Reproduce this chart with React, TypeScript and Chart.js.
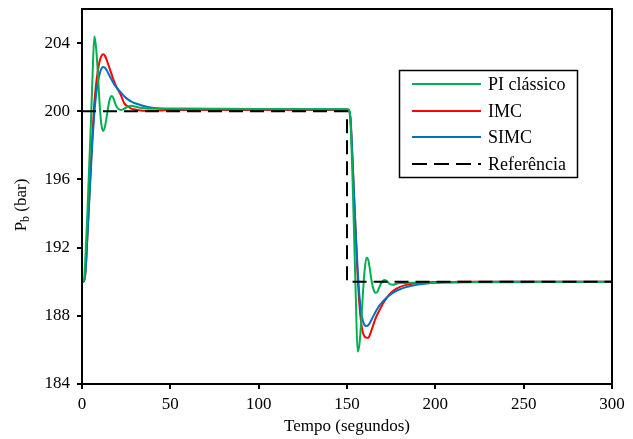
import React, { useEffect, useRef } from "react";
import { Chart, registerables } from "chart.js";

Chart.register(...registerables);

const tempo = [
  0, 1, 2, 3, 4, 5, 6, 7, 8, 9, 10, 11, 12, 13, 14, 15, 16, 17, 18, 19, 20,
  22, 24, 26, 28, 30, 33, 36, 40, 45, 50, 60, 80, 100, 120, 140,
  150, 151, 152, 153, 154, 155, 156, 157, 158, 159, 160, 161, 162, 163, 164, 165, 166, 167, 168, 169, 170, 171, 172, 173, 174,
  176, 178, 180, 183, 186, 190, 195, 200, 210, 220, 240, 260, 280, 300,
];

const piClassico = [
  190, 190, 191.6, 193.9, 196.6, 199.2, 202.2, 204.4, 203.7, 202.2, 200.4, 199.2, 198.85, 199.1, 199.7, 200.35, 200.8, 200.9, 200.7, 200.4, 200.2,
  200.08, 200.15, 200.28, 200.32, 200.28, 200.21, 200.18, 200.17, 200.17, 200.17, 200.16, 200.15, 200.14, 200.13, 200.12,
  200.12, 200.1, 199.3, 196.5, 192.8, 189.0, 185.9, 186.3, 187.6, 189.3, 190.7, 191.4, 191.3, 190.7, 190.0, 189.55, 189.36, 189.38, 189.6, 189.85, 190.02, 190.1, 190.08, 189.98, 189.88,
  189.82, 189.88, 189.92, 189.93, 189.94, 189.95, 189.95, 189.96, 189.96, 189.97, 189.97, 189.98, 189.98, 189.98,
];

const imc = [
  190, 190, 190.6, 192.6, 194.7, 196.8, 198.8, 200.5, 201.6, 202.4, 202.95, 203.25, 203.35, 203.25, 203.0, 202.7, 202.4, 202.1, 201.8, 201.55, 201.35,
  200.95, 200.45, 200.28, 200.16, 200.1, 200.05, 200.03, 200.03, 200.05, 200.07, 200.08, 200.08, 200.08, 200.08, 200.08,
  200.08, 200.05, 199.5, 197.4, 195.0, 192.6, 190.4, 188.7, 187.6, 187.0, 186.78, 186.72, 186.7, 186.9, 187.2, 187.5, 187.8, 188.05, 188.25, 188.45, 188.65, 188.82, 188.98, 189.12, 189.25,
  189.45, 189.6, 189.7, 189.8, 189.87, 189.93, 189.97, 189.98, 189.99, 190, 190, 190, 190, 190,
];

const simc = [
  190, 190, 190.6, 192.5, 194.5, 196.5, 198.4, 199.9, 201.0, 201.7, 202.2, 202.5, 202.6, 202.55, 202.4, 202.2, 202.0, 201.8, 201.62, 201.47, 201.33,
  201.1, 200.87, 200.7, 200.57, 200.47, 200.37, 200.28, 200.2, 200.15, 200.13, 200.12, 200.12, 200.12, 200.12, 200.12,
  200.12, 200.1, 199.6, 197.5, 195.1, 192.8, 190.8, 189.2, 188.2, 187.7, 187.45, 187.4, 187.45, 187.6, 187.8, 188.0, 188.2, 188.38, 188.55, 188.68, 188.8, 188.92, 189.02, 189.12, 189.2,
  189.35, 189.47, 189.56, 189.67, 189.75, 189.83, 189.9, 189.94, 189.97, 189.99, 190, 190, 190, 190,
];

const refTempo = [0, 150, 150, 300];
const referencia = [200, 200, 190, 190];

const seriesLabels = ["PI clássico", "IMC", "SIMC", "Referência"];
const seriesColors = ["#00B050", "#FF0000", "#0070C0", "#000000"];

const xTitle = "Tempo (segundos)";
const yTitleMain = "P";
const yTitleSub = "b";
const yTitleRest = " (bar)";

const FONT = '"Liberation Serif", "Times New Roman", serif';

const toPoints = (xs: number[], ys: number[]) => xs.map((x, i) => ({ x, y: ys[i] }));

const decorPlugin = {
  id: "decor",
  afterDraw(chart: any) {
    const { ctx, chartArea } = chart;
    ctx.save();
    ctx.strokeStyle = "#000";
    ctx.lineWidth = 2;
    ctx.strokeRect(chartArea.left, chartArea.top, chartArea.right - chartArea.left, chartArea.bottom - chartArea.top);

    ctx.fillStyle = "#000";
    ctx.font = `17px ${FONT}`;
    ctx.textAlign = "center";
    ctx.textBaseline = "middle";
    ctx.fillText(xTitle, (chartArea.left + chartArea.right) / 2, 427);

    ctx.save();
    ctx.translate(22, 205);
    ctx.rotate(-Math.PI / 2);
    ctx.textAlign = "left";
    ctx.textBaseline = "middle";
    const big = `17px ${FONT}`;
    const small = `12px ${FONT}`;
    ctx.font = big;
    const wP = ctx.measureText(yTitleMain).width;
    const wR = ctx.measureText(yTitleRest).width;
    ctx.font = small;
    const wb = ctx.measureText(yTitleSub).width;
    let x = -(wP + wb + wR) / 2;
    ctx.font = big;
    ctx.fillText(yTitleMain, x, 0);
    x += wP;
    ctx.font = small;
    ctx.fillText(yTitleSub, x, 4);
    x += wb;
    ctx.font = big;
    ctx.fillText(yTitleRest, x, 0);
    ctx.restore();

    const bx = 399.5, by = 70.5, bw = 178, bh = 107;
    ctx.fillStyle = "#fff";
    ctx.fillRect(bx, by, bw, bh);
    ctx.strokeStyle = "#000";
    ctx.lineWidth = 1.5;
    ctx.strokeRect(bx, by, bw, bh);
    const rows = [84, 111, 137, 164];
    ctx.font = `18px ${FONT}`;
    ctx.textAlign = "left";
    ctx.textBaseline = "middle";
    seriesLabels.forEach((lab, i) => {
      ctx.beginPath();
      ctx.strokeStyle = seriesColors[i];
      ctx.lineWidth = 2;
      ctx.setLineDash(i === 3 ? [15, 7] : []);
      ctx.moveTo(412, rows[i]);
      ctx.lineTo(481, rows[i]);
      ctx.stroke();
      ctx.setLineDash([]);
      ctx.fillStyle = "#000";
      ctx.fillText(lab, 488, rows[i] + 1);
    });
    ctx.restore();
  },
};

export default function App() {
  const ref = useRef<HTMLCanvasElement>(null);

  useEffect(() => {
    if (!ref.current) return;
    document.body.style.margin = "0";
    Chart.defaults.font.family = FONT;
    Chart.defaults.color = "#000";
    const lineCommon = {
      pointRadius: 0,
      borderWidth: 2,
      fill: false,
      cubicInterpolationMode: "monotone" as const,
    };
    const chart = new Chart(ref.current, {
      type: "line",
      data: {
        datasets: [
          {
            label: seriesLabels[3],
            data: toPoints(refTempo, referencia),
            borderColor: seriesColors[3],
            borderDash: [14, 7],
            pointRadius: 0,
            borderWidth: 2,
            tension: 0,
          },
          { label: seriesLabels[0], data: toPoints(tempo, piClassico), borderColor: seriesColors[0], ...lineCommon },
          { label: seriesLabels[2], data: toPoints(tempo, simc), borderColor: seriesColors[2], ...lineCommon },
          { label: seriesLabels[1], data: toPoints(tempo, imc), borderColor: seriesColors[1], ...lineCommon },
        ],
      },
      options: {
        animation: false,
        responsive: true,
        maintainAspectRatio: false,
        layout: { padding: { left: 0, right: 21, top: 9, bottom: 0 } },
        plugins: { legend: { display: false }, tooltip: { enabled: false } },
        scales: {
          x: {
            type: "linear",
            min: 0,
            max: 300,
            ticks: { stepSize: 50, font: { size: 17, family: FONT }, color: "#000", padding: 5, maxRotation: 0 },
            grid: { display: true, drawOnChartArea: false, drawTicks: true, tickLength: 5, color: "#000", lineWidth: 2 },
            border: { display: true, color: "#000", width: 2 },
            afterFit: (s: any) => { s.height = 55; s.paddingLeft = 0; s.paddingRight = 0; },
          },
          y: {
            type: "linear",
            min: 184,
            max: 206,
            ticks: { stepSize: 4, includeBounds: false, font: { size: 17, family: FONT }, color: "#000", padding: 7 },
            grid: { display: true, drawOnChartArea: false, drawTicks: true, tickLength: 5, color: "#000", lineWidth: 2 },
            border: { display: true, color: "#000", width: 2 },
            afterFit: (s: any) => { s.width = 82; s.paddingTop = 0; s.paddingBottom = 0; },
          },
        },
      },
      plugins: [decorPlugin],
    });
    return () => chart.destroy();
  }, []);

  return (
    <div style={{ position: "fixed", left: 0, top: 0, width: 633, height: 439, background: "#fff" }}>
      <canvas ref={ref} />
    </div>
  );
}
